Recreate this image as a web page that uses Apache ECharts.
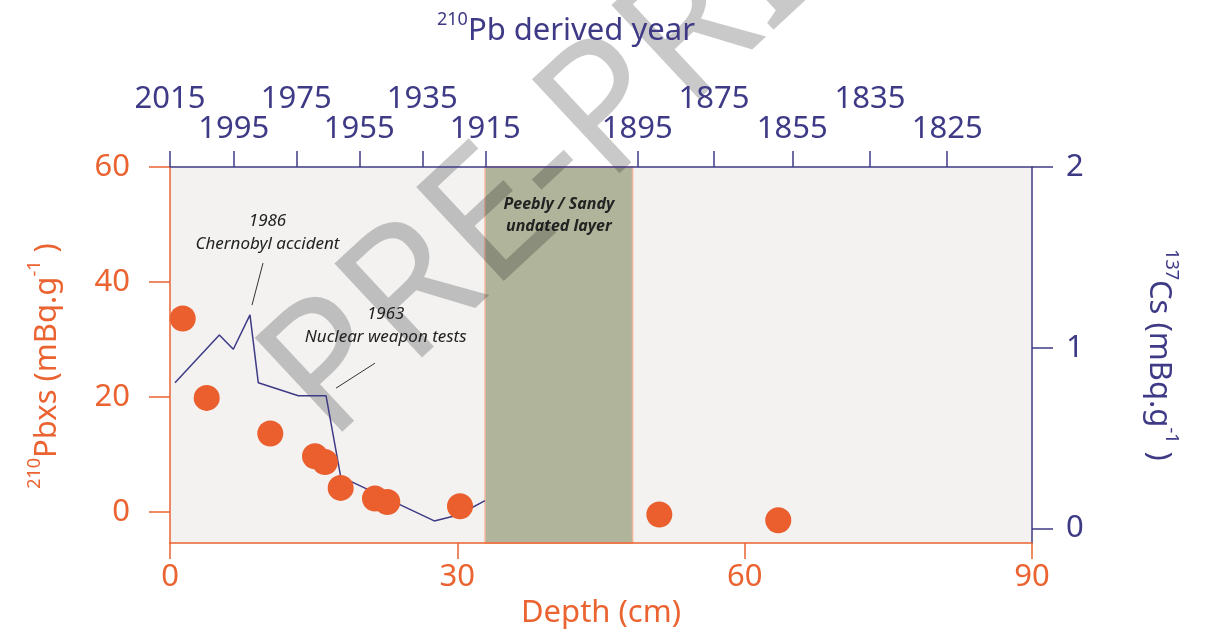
<!DOCTYPE html>
<html>
<head>
<meta charset="utf-8">
<script src="https://cdn.jsdelivr.net/npm/echarts@6/dist/echarts.min.js"></script>
<style>
  html, body { margin: 0; padding: 0; background: #fff; }
  #chart { width: 1205px; height: 635px; }
</style>
</head>
<body>
<div id="chart"></div>
<script>
// excess 210Pb (mBq/g) against depth (cm)
var pbDepth = [1.33, 3.83, 10.47, 15.14, 16.18, 17.82, 21.40, 22.69, 30.28, 51.09, 63.51]
var pbValue = [33.66, 19.84, 13.65, 9.70, 8.70, 4.18, 2.33, 1.74, 0.99, -0.45, -1.44]
// 137Cs profile (mBq/g)
var csDepth = [0.52, 5.15, 6.61, 8.35, 9.22, 13.4, 16.29, 17.82, 27.59, 30.1, 32.89]
var csValue = [0.807, 1.071, 0.992, 1.182, 0.806, 0.735, 0.735, 0.287, 0.042, 0.075, 0.154]
// top axis: 210Pb derived years and the depth where each one falls
var yearLabels = ['2015', '1995', '1975', '1955', '1935', '1915', '1895', '1875', '1855', '1835', '1825']
var yearDepth = [0, 6.65, 13.19, 19.76, 26.34, 32.92, 48.79, 56.80, 64.97, 73.08, 81.15]
var yearUpper = [true, false, true, false, true, false, false, true, false, true, false]
var depthTicks = [0, 30, 60, 90]
var pbTicks = [0, 20, 40, 60]
var csTicks = [0, 1, 2]
// peebly / sandy undated layer (cm)
var undatedLayer = [32.9, 48.3]

var ORANGE = '#ea6330'
var BLUE = '#3e3a86'
var FONT = 'Noto Sans'

var chart = echarts.init(document.getElementById('chart'))

var pbData = pbDepth.map(function (d, i) { return [d, pbValue[i]] })
var csData = csDepth.map(function (d, i) { return [d, csValue[i]] })
var upperDepth = yearDepth.filter(function (d, i) { return yearUpper[i] })
var lowerDepth = yearDepth.filter(function (d, i) { return !yearUpper[i] })

function yearOf(val) {
  var i = yearDepth.indexOf(val)
  return i < 0 ? '' : yearLabels[i]
}

// top axis shared style, the two label rows are two axes on the same edge
function yearAxis(values, margin, withLine) {
  return {
    type: 'value',
    position: 'top',
    min: 0,
    max: 90,
    z: 10,
    axisLine: { show: withLine, onZero: false, lineStyle: { color: BLUE, width: 1.5 } },
    axisTick: { show: withLine, length: 16, customValues: yearDepth, lineStyle: { color: BLUE, width: 1.5 } },
    axisLabel: {
      color: BLUE,
      fontSize: 31,
      fontFamily: FONT,
      margin: margin,
      showMinLabel: true,
      showMaxLabel: true,
      hideOverlap: false,
      customValues: values,
      formatter: yearOf
    },
    splitLine: { show: false }
  }
}

chart.setOption({
  backgroundColor: '#fff',
  animation: false,
  title: {
    text: '{sup|210}{main|Pb derived year}',
    left: 432,
    top: 6,
    textStyle: {
      fontWeight: 'normal',
      rich: {
        sup: { fontFamily: FONT, fontSize: 18, fontWeight: 'normal', color: BLUE, verticalAlign: 'top', lineHeight: 40 },
        main: { fontFamily: FONT, fontSize: 31, fontWeight: 'normal', color: BLUE, lineHeight: 40 }
      }
    }
  },
  grid: {
    left: 170,
    right: 173,
    top: 167,
    bottom: 92,
    containLabel: false,
    outerBoundsMode: 'none',
    show: true,
    backgroundColor: '#f3f2f1',
    borderWidth: 0
  },
  xAxis: [
    {
      type: 'value',
      position: 'bottom',
      min: 0,
      max: 90,
      interval: 30,
      z: 10,
      name: 'Depth (cm)',
      nameLocation: 'middle',
      nameGap: 50,
      nameTextStyle: { color: ORANGE, fontSize: 31, fontFamily: FONT },
      axisLine: { onZero: false, lineStyle: { color: ORANGE, width: 1.5 } },
      axisTick: { length: 16, lineStyle: { color: ORANGE, width: 1.5 } },
      axisLabel: { color: ORANGE, fontSize: 31, fontFamily: FONT, margin: 19 },
      splitLine: { show: false }
    },
    yearAxis(lowerDepth, 22, true),
    yearAxis(upperDepth, 52, false)
  ],
  yAxis: [
    {
      type: 'value',
      position: 'left',
      min: -5.4,
      max: 60,
      z: 10,
      name: '{sup|210}{main|Pbxs (mBq.g}{sup|-1}{main| )}',
      nameLocation: 'middle',
      nameRotate: 90,
      nameGap: 102,
      nameTextStyle: {
        padding: [0, 22, 0, 0],
        rich: {
          sup: { fontFamily: FONT, fontSize: 18, color: ORANGE, verticalAlign: 'top', lineHeight: 42 },
          main: { fontFamily: FONT, fontSize: 31, color: ORANGE, lineHeight: 42 }
        }
      },
      axisLine: { show: true, onZero: false, lineStyle: { color: ORANGE, width: 1.5 } },
      axisTick: { show: true, length: 21, customValues: pbTicks, lineStyle: { color: ORANGE, width: 1.5 } },
      axisLabel: { color: ORANGE, fontSize: 31, fontFamily: FONT, margin: 40, customValues: pbTicks },
      splitLine: { show: false }
    },
    {
      type: 'value',
      position: 'right',
      min: -0.08,
      max: 2,
      z: 10,
      name: '{sup|137}{main|Cs (mBq.g}{sup|-1}{main| )}',
      nameLocation: 'middle',
      nameRotate: -90,
      nameGap: 106,
      nameTextStyle: {
        rich: {
          sup: { fontFamily: FONT, fontSize: 18, color: BLUE, verticalAlign: 'top', lineHeight: 42 },
          main: { fontFamily: FONT, fontSize: 31, color: BLUE, lineHeight: 42 }
        }
      },
      axisLine: { show: true, onZero: false, lineStyle: { color: BLUE, width: 1.5 } },
      axisTick: { show: true, length: 21, customValues: csTicks, lineStyle: { color: BLUE, width: 1.5 } },
      axisLabel: { color: BLUE, fontSize: 31, fontFamily: FONT, margin: 34, customValues: csTicks },
      splitLine: { show: false }
    }
  ],
  graphic: [
    {
      type: 'text',
      z: 3,
      silent: true,
      x: 356,
      y: 472,
      rotation: 43 * Math.PI / 180,
      style: {
        text: 'PRE-PRINT',
        font: '180px "Noto Sans"',
        fill: 'rgba(0,0,0,0.21)',
        textAlign: 'left',
        textVerticalAlign: 'bottom'
      }
    }
  ],
  series: [
    {
      name: 'band',
      type: 'line',
      data: [],
      z: 1,
      silent: true,
      markArea: {
        silent: true,
        itemStyle: { color: '#b0b49b', borderColor: '#f0b49a', borderWidth: 1.5 },
        label: {
          show: true,
          position: 'insideTop',
          distance: 27,
          formatter: 'Peebly / Sandy\nundated layer',
          color: '#222',
          fontFamily: FONT,
          fontSize: 16,
          fontStyle: 'italic',
          fontWeight: 'bold',
          lineHeight: 22
        },
        data: [[{ xAxis: undatedLayer[0] }, { xAxis: undatedLayer[1] }]]
      }
    },
    {
      name: '137Cs',
      type: 'line',
      xAxisIndex: 0,
      yAxisIndex: 1,
      z: 5,
      data: csData,
      symbol: 'none',
      lineStyle: { color: BLUE, width: 1.5 }
    },
    {
      name: '210Pbxs',
      type: 'scatter',
      xAxisIndex: 0,
      yAxisIndex: 0,
      z: 6,
      data: pbData,
      symbolSize: 26,
      itemStyle: { color: '#ea5f2d', opacity: 1 },
      markLine: {
        silent: true,
        symbol: 'none',
        label: { show: false },
        lineStyle: { color: '#333', width: 1, type: 'solid' },
        data: [
          [{ coord: [9.71, 43.29] }, { coord: [8.56, 35.97] }],
          [{ coord: [21.40, 25.88] }, { coord: [17.33, 21.53] }]
        ]
      },
      markPoint: {
        silent: true,
        symbol: 'circle',
        symbolSize: 1,
        itemStyle: { color: 'rgba(0,0,0,0)' },
        label: {
          show: true,
          position: 'inside',
          color: '#222',
          fontFamily: FONT,
          fontSize: 17,
          fontStyle: 'italic',
          lineHeight: 23
        },
        data: [
          { coord: [10.18, 48.51], label: { formatter: '1986\nChernobyl accident' } },
          { coord: [22.52, 32.32], label: { formatter: '1963\nNuclear weapon tests' } }
        ]
      }
    }
  ]
})

window.addEventListener('resize', function () { chart.resize() })
</script>
</body>
</html>
